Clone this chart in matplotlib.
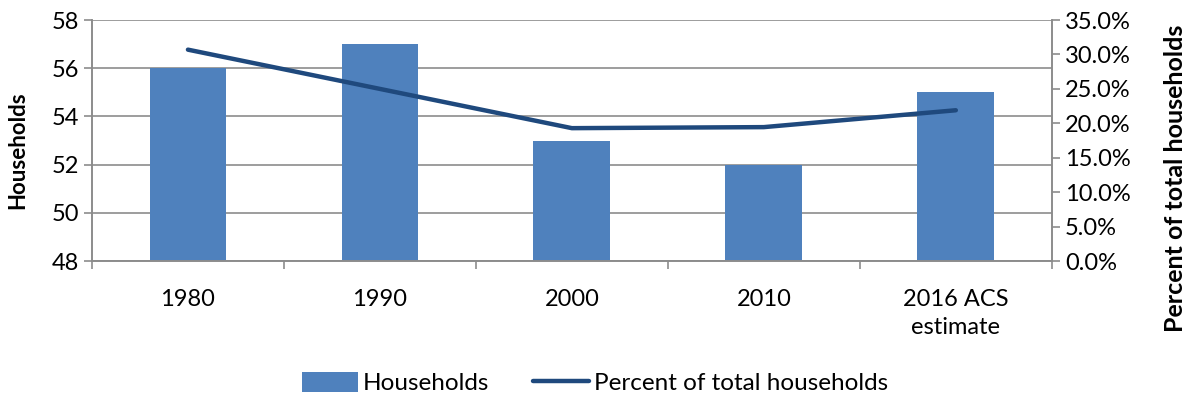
import numpy as np
import matplotlib.pyplot as plt
from matplotlib.ticker import PercentFormatter

plt.rcParams['font.family'] = ['Lato', 'DejaVu Sans']

categories = ['1980', '1990', '2000', '2010', '2016 ACS\nestimate']
households = [56, 57, 53, 52, 55]
pct_total = [30.7, 25.0, 19.3, 19.45, 21.9]

bar_color = '#4F81BD'
line_color = '#1F497D'
grid_color = '#8C8C8C'

fig = plt.figure(figsize=(11.85, 4.01), dpi=100)
ax = fig.add_axes([0.0776, 0.349, 0.81, 0.601])
x = np.arange(len(categories))

bars = ax.bar(x, households, width=0.4, color=bar_color, zorder=2, label='Households')
ax.set_ylim(48, 58)
ax.set_yticks(np.arange(48, 59, 2))
ax.set_xlim(-0.5, len(categories) - 0.5)
ax.yaxis.grid(True, color=grid_color, linewidth=1.2, zorder=0)
ax.set_axisbelow(True)

# category ticks sit between the groups, labels in the middle
ax.set_xticks(np.arange(-0.5, len(categories)), minor=False)
ax.set_xticklabels([])
ax.set_xticks(x, minor=True)
ax.set_xticklabels(categories, minor=True, fontsize=17, linespacing=1.4)
ax.tick_params(axis='x', which='minor', length=0, pad=20)
ax.tick_params(axis='x', which='major', length=6, color=grid_color, width=1.2)
ax.tick_params(axis='y', labelsize=17, length=6, color=grid_color, width=1.2)
ax.set_ylabel('Households', fontsize=16, fontweight='bold')
ax.yaxis.set_label_coords(-0.066, 0.46)

ax.spines['top'].set_visible(False)
for s in ['left', 'right', 'bottom']:
    ax.spines[s].set_color(grid_color)
    ax.spines[s].set_linewidth(1.2)

ax2 = ax.twinx()
line, = ax2.plot(x, pct_total, color=line_color, linewidth=3.2, solid_capstyle='round',
                 label='Percent of total households', zorder=3)
ax2.set_ylim(0, 35)
ax2.set_yticks(np.arange(0, 36, 5))
ax2.yaxis.set_major_formatter(PercentFormatter(decimals=1))
ax2.tick_params(axis='y', labelsize=17, length=6, color=grid_color, width=1.2)
ax2.set_ylabel('Percent of total households', fontsize=18, fontweight='bold')
ax2.yaxis.set_label_coords(1.117, 0.344)
ax2.spines['top'].set_visible(False)
for s in ['left', 'right', 'bottom']:
    ax2.spines[s].set_color(grid_color)
    ax2.spines[s].set_linewidth(1.2)

fig.legend([bars, line], ['Households', 'Percent of total households'],
           loc='center', bbox_to_anchor=(0.502, 0.045), ncol=2, frameon=False,
           fontsize=17.5, handlelength=2.3, handleheight=0.9, handletextpad=0.2,
           columnspacing=1.8)

fig.savefig('out.png', dpi=100)
